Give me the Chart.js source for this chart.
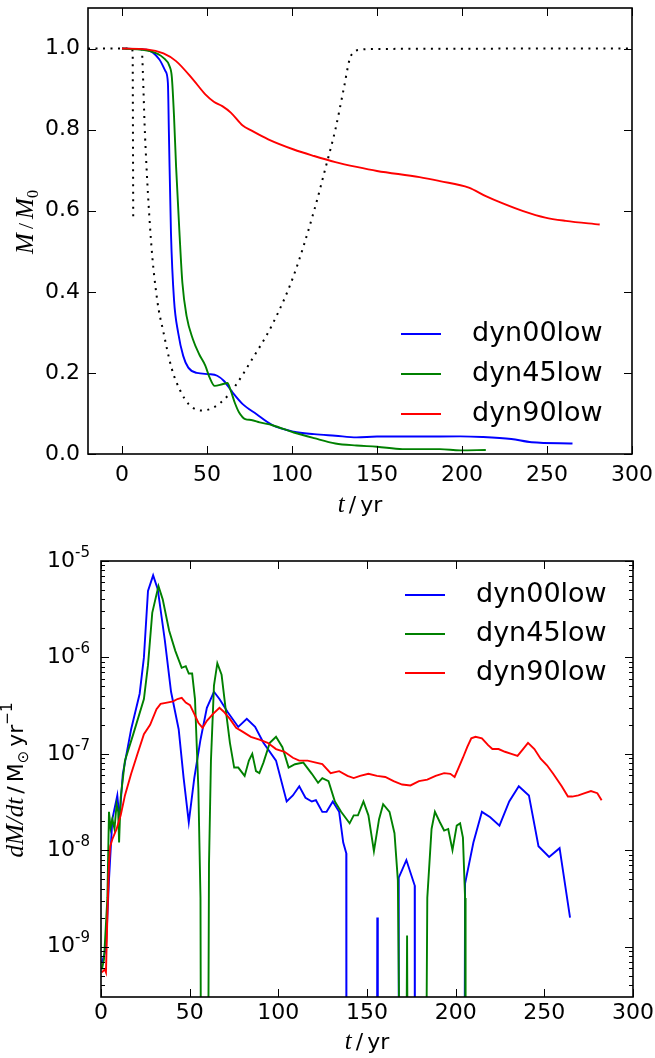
<!DOCTYPE html>
<html>
<head>
<meta charset="utf-8">
<script src="https://cdn.jsdelivr.net/npm/chart.js@4.4.1/dist/chart.umd.min.js"></script>
<style>
  html, body { margin: 0; padding: 0; background: #fff; }
  #wrap { position: relative; width: 655px; height: 1058px; }
  canvas { position: absolute; left: 0; }
  #massChart { top: 0; }
  #rateChart { top: 520px; }
</style>
</head>
<body>
<div id="wrap">
  <canvas id="massChart" width="655" height="520"></canvas>
  <canvas id="rateChart" width="655" height="538"></canvas>
</div>
<script>
// ---- top panel: remaining mass M/M0 ----
const massTime00 = [0, 14.5, 22, 25.6, 27, 27.6, 28.8, 30.6, 33, 36, 39, 44, 51.5, 56, 60, 65, 71, 79, 88.5, 101, 113, 125.5, 138, 150, 175, 199, 212, 229, 241, 265];
const mass00 = [1.0, 0.997, 0.973, 0.944, 0.915, 0.79, 0.546, 0.38, 0.30, 0.242, 0.213, 0.20, 0.197, 0.193, 0.18, 0.152, 0.123, 0.0985, 0.071, 0.055, 0.049, 0.045, 0.041, 0.043, 0.043, 0.0435, 0.042, 0.037, 0.029, 0.026];

const massTime45 = [0, 17, 24.4, 28, 29.3, 30.6, 31.8, 33.8, 35.5, 38, 41.7, 45.4, 49, 51.5, 54.5, 59, 62, 64, 66.3, 68.8, 72.5, 76, 81, 88.5, 101, 113, 125.5, 138, 150, 165, 187, 199, 214];
const mass45 = [1.0, 0.993, 0.977, 0.956, 0.93, 0.833, 0.71, 0.546, 0.423, 0.34, 0.283, 0.246, 0.218, 0.189, 0.168, 0.172, 0.175, 0.156, 0.127, 0.103, 0.086, 0.084, 0.078, 0.071, 0.053, 0.039, 0.026, 0.021, 0.018, 0.012, 0.012, 0.009, 0.010];

const massTime90 = [0, 14.5, 24.4, 31.8, 41.7, 49, 54, 59, 64, 71, 76, 86, 101, 113, 125.5, 138, 150, 175, 187, 204, 214, 224, 236, 249, 261, 281];
const mass90 = [1.0, 0.998, 0.988, 0.969, 0.924, 0.887, 0.869, 0.858, 0.842, 0.81, 0.798, 0.776, 0.751, 0.735, 0.72, 0.708, 0.698, 0.683, 0.673, 0.657, 0.636, 0.618, 0.599, 0.583, 0.575, 0.566];

// dotted reference curves
const guideTimeA = [-20, 6.0, 6.3, 6.6];
const guideA = [1.0, 1.0, 0.99, 0.58];
const guideTimeB = [11.5, 11.8, 13.5, 17, 20.7, 24.4, 29.3, 34.3, 39.2, 46.6, 54, 61.4, 66, 76, 88.5, 101, 113, 120, 125.5, 130.4, 134, 136, 140, 150, 300];
const guideB = [1.0, 0.99, 0.79, 0.53, 0.38, 0.30, 0.21, 0.156, 0.123, 0.107, 0.115, 0.14, 0.164, 0.23, 0.32, 0.44, 0.60, 0.71, 0.80, 0.90, 0.975, 0.99, 0.997, 0.999, 1.0];

const massXTicks = [0, 50, 100, 150, 200, 250, 300];
const massYTicks = [0.0, 0.2, 0.4, 0.6, 0.8, 1.0];

// ---- bottom panel: mass loss rate dM/dt (1e-12 = dropped below the axis) ----
const rateTime00 = [0.5, 2.8, 4.5, 6.4, 9.2, 10.4, 12.3, 17, 21.8, 24.2, 26.5, 29.4, 32, 36, 39.5, 43.8, 46.6, 49.5, 52.6, 56.1, 59.7, 63.7, 66.8, 71.5, 77.4, 82.2, 86.9, 91.6, 98.7, 104.7, 108.2, 111.8, 115.3, 118.9, 121.2, 124.8, 127.2, 130.7, 134.3, 136.6, 138.3, 138.4, 155.5, 155.8, 156.1, 167.6, 167.9, 172.2, 176.9, 177.0, 204.8, 205.3, 210, 214.8, 219.5, 224.7, 230.2, 235.6, 241.3, 246.7, 252.7, 258.6, 264.5];
const rate00 = [6.8e-10, 9.5e-10, 4.9e-9, 2.1e-8, 3.7e-8, 2.1e-8, 6.2e-8, 1.8e-7, 4.2e-7, 1.0e-6, 4.9e-6, 7.1e-6, 5.1e-6, 1.5e-6, 4.4e-7, 1.8e-7, 5.6e-8, 1.95e-8, 5.6e-8, 1.4e-7, 3.0e-7, 4.4e-7, 3.7e-7, 2.7e-7, 1.9e-7, 2.3e-7, 1.9e-7, 1.3e-7, 8.5e-8, 3.2e-8, 3.7e-8, 4.6e-8, 3.5e-8, 3.2e-8, 3.3e-8, 2.5e-8, 2.5e-8, 3.2e-8, 2.5e-8, 1.2e-8, 9.3e-9, 1e-12, 1e-12, 2.0e-9, 1e-12, 1e-12, 5.2e-9, 7.9e-9, 4.3e-9, 1e-12, 1e-12, 4.5e-9, 1.2e-8, 2.5e-8, 2.2e-8, 1.8e-8, 3.2e-8, 4.6e-8, 3.7e-8, 1.1e-8, 8.5e-9, 1.05e-8, 2.0e-9];

const rateTime45 = [0.5, 1.7, 3.6, 4.5, 5.4, 6.4, 7.6, 8.8, 9.7, 10.2, 11.1, 13.5, 18.2, 24.2, 26.5, 28.9, 32.4, 34.8, 38.4, 41.9, 45.5, 47.8, 49.5, 51.4, 53, 54.9, 56.1, 56.6, 60.1, 60.9, 62, 63.7, 65.6, 68, 70.3, 72.7, 75.1, 77.4, 81, 83.4, 85.3, 87.4, 89.3, 91.6, 95.2, 98.7, 102.3, 105.8, 109.4, 114.1, 118.9, 122.4, 124.8, 128.3, 131.9, 135.4, 140.2, 142.5, 144.9, 148, 150.8, 153.9, 156.8, 159.1, 162.7, 165.5, 167.4, 169.3, 171.7, 172.6, 173.3, 182.8, 184, 186.4, 188.3, 191.1, 193.5, 195.8, 198.2, 200.6, 202.5, 204.1, 205.3, 205.6];
const rate45 = [5.8e-10, 7.4e-10, 3.2e-9, 2.5e-8, 1.7e-8, 2.1e-8, 1.66e-8, 3.0e-8, 2.5e-8, 1.2e-8, 3.5e-8, 8.5e-8, 1.6e-7, 3.7e-7, 8.3e-7, 2.9e-6, 5.5e-6, 4.0e-6, 1.9e-6, 1.17e-6, 7.8e-7, 8.1e-7, 6.8e-7, 6.8e-7, 3.7e-7, 4.4e-8, 3.2e-9, 1e-12, 1e-12, 7.2e-9, 8.5e-8, 5.1e-7, 8.7e-7, 6.6e-7, 2.9e-7, 1.3e-7, 7.2e-8, 7.2e-8, 5.9e-8, 8.5e-8, 1.0e-7, 6.6e-8, 6.3e-8, 8.1e-8, 1.3e-7, 1.5e-7, 1.17e-7, 7.2e-8, 7.8e-8, 8.1e-8, 6.2e-8, 5.0e-8, 5.6e-8, 5.2e-8, 3.2e-8, 2.5e-8, 1.9e-8, 2.3e-8, 2.3e-8, 3.2e-8, 2.3e-8, 9.8e-9, 2.1e-8, 3.0e-8, 2.5e-8, 1.5e-8, 4.9e-9, 1e-12, 1e-12, 1.3e-9, 1e-12, 1e-12, 3.2e-9, 1.66e-8, 2.5e-8, 1.95e-8, 1.6e-8, 1.66e-8, 1.0e-8, 1.8e-8, 1.9e-8, 1.35e-8, 3.2e-9, 1e-12];

const rateTime90 = [0.5, 2.1, 2.8, 3.6, 4.5, 5.2, 6.4, 8.8, 11.1, 13.5, 17, 20.6, 24.2, 27.7, 31.3, 33.6, 37.2, 40.7, 43.1, 45.5, 47.8, 50.2, 52.6, 54.9, 57.3, 59.7, 63.2, 66.8, 69.1, 72.7, 76.2, 79.8, 84.5, 89.3, 94, 98.7, 103.5, 108.2, 111.8, 116.5, 121.2, 124.8, 129.5, 134.3, 139, 142.5, 146.1, 150.8, 155.6, 160.3, 165, 169.8, 174.5, 179.3, 184, 188.7, 193.5, 197, 199.4, 201.7, 204.1, 206.5, 208.8, 211.2, 214.8, 218.3, 220.7, 224.2, 227.8, 231.4, 234.9, 238, 240.8, 244.4, 247.9, 251.5, 255, 259.8, 263.3, 265.7, 269.2, 272.8, 276.3, 279.9, 282.3];
const rate90 = [5.4e-10, 5.8e-10, 5.4e-10, 2.1e-9, 7.2e-9, 1.1e-8, 1.3e-8, 1.66e-8, 2.3e-8, 3.7e-8, 6.2e-8, 1.0e-7, 1.6e-7, 2.0e-7, 2.9e-7, 3.3e-7, 3.4e-7, 3.5e-7, 3.7e-7, 3.8e-7, 3.4e-7, 3.2e-7, 2.6e-7, 2.1e-7, 1.86e-7, 2.2e-7, 2.6e-7, 3.0e-7, 2.75e-7, 2.3e-7, 1.86e-7, 1.7e-7, 1.5e-7, 1.4e-7, 1.3e-7, 1.12e-7, 1.05e-7, 9.1e-8, 8.5e-8, 8.5e-8, 8.1e-8, 7.8e-8, 6.3e-8, 6.6e-8, 5.9e-8, 5.6e-8, 5.9e-8, 6.2e-8, 5.9e-8, 5.75e-8, 5.2e-8, 4.8e-8, 4.7e-8, 5.2e-8, 5.4e-8, 5.9e-8, 6.3e-8, 6.2e-8, 5.75e-8, 7.2e-8, 9.1e-8, 1.17e-7, 1.45e-7, 1.5e-7, 1.45e-7, 1.23e-7, 1.12e-7, 1.12e-7, 1.05e-7, 1.0e-7, 9.5e-8, 1.12e-7, 1.3e-7, 1.12e-7, 8.9e-8, 7.6e-8, 6.2e-8, 4.6e-8, 3.6e-8, 3.6e-8, 3.7e-8, 3.9e-8, 4.1e-8, 3.9e-8, 3.3e-8];

const rateXTicks = [0, 50, 100, 150, 200, 250, 300];
const rateYTicks = [1e-9, 1e-8, 1e-7, 1e-6, 1e-5];
const rateYTickExps = ['-9', '-8', '-7', '-6', '-5'];
const rateDecades = [1e-10, 1e-9, 1e-8, 1e-7, 1e-6];
const rateMinorSteps = [2, 3, 4, 5, 6, 7, 8, 9];

const seriesNames = ['dyn00low', 'dyn45low', 'dyn90low'];
const seriesColors = ['#0000ff', '#008000', '#ff0000'];

Chart.defaults.font.family = '"DejaVu Sans", sans-serif';
Chart.defaults.font.size = 22;
Chart.defaults.color = '#000';
Chart.defaults.animation = false;

const pts = (xs, ys) => xs.map((x, i) => ({ x: x, y: ys[i] }));

// fixed axis sizes so the plot boxes sit where the original put them
function fixWidth(w) {
  return s => { s.width = w; s.paddingTop = 0; s.paddingBottom = 0; };
}
function fixHeight(h) {
  return s => { s.height = h; s.paddingLeft = 0; s.paddingRight = 0; };
}

// box around the plot with inward ticks on all four sides
const frameTicks = {
  id: 'frameTicks',
  afterDatasetsDraw(chart, args, opts) {
    const { ctx, chartArea: a, scales } = chart;
    ctx.save();
    ctx.strokeStyle = '#000';
    ctx.lineWidth = 1;
    ctx.beginPath();
    scales.x.ticks.forEach(t => {
      const px = Math.round(scales.x.getPixelForValue(t.value)) + 0.5;
      ctx.moveTo(px, a.bottom); ctx.lineTo(px, a.bottom - 8);
      ctx.moveTo(px, a.top); ctx.lineTo(px, a.top + 8);
    });
    scales.y.ticks.forEach(t => {
      const py = Math.round(scales.y.getPixelForValue(t.value)) + 0.5;
      ctx.moveTo(a.left, py); ctx.lineTo(a.left + 8, py);
      ctx.moveTo(a.right, py); ctx.lineTo(a.right - 8, py);
    });
    (opts.minor || []).forEach(v => {
      const py = Math.round(scales.y.getPixelForValue(v)) + 0.5;
      if (py < a.top || py > a.bottom) return;
      ctx.moveTo(a.left, py); ctx.lineTo(a.left + 4, py);
      ctx.moveTo(a.right, py); ctx.lineTo(a.right - 4, py);
    });
    ctx.stroke();
    ctx.lineWidth = 1.6;
    ctx.strokeRect(a.left, a.top, a.right - a.left, a.bottom - a.top);
    ctx.restore();
  }
};

// legend drawn inside the axes, matplotlib style
const insetLegend = {
  id: 'insetLegend',
  afterDraw(chart, args, o) {
    const ctx = chart.ctx;
    const items = chart.data.datasets.filter(d => d.label);
    ctx.save();
    ctx.font = o.font;
    ctx.textBaseline = 'middle';
    ctx.fillStyle = '#000';
    items.forEach((d, i) => {
      const y = o.top + i * o.gap;
      ctx.strokeStyle = d.borderColor;
      ctx.lineWidth = d.borderWidth;
      ctx.beginPath();
      ctx.moveTo(o.lineFrom, y); ctx.lineTo(o.lineTo, y);
      ctx.stroke();
      ctx.fillText(d.label, o.textX, y);
    });
    ctx.restore();
  }
};

// axis titles with mixed math / roman text
function drawRuns(ctx, runs, cx, cy, rotate) {
  ctx.save();
  ctx.translate(cx, cy);
  if (rotate) ctx.rotate(-Math.PI / 2);
  let total = 0;
  runs.forEach(r => {
    ctx.font = r.font;
    r.w = ctx.measureText(r.text).width + (r.gap || 0);
    total += r.w;
  });
  let x = -total / 2;
  ctx.fillStyle = '#000';
  ctx.textBaseline = 'alphabetic';
  runs.forEach(r => {
    ctx.font = r.font;
    ctx.fillText(r.text, x, r.dy || 0);
    x += r.w;
  });
  ctx.restore();
}
const axisTitles = {
  id: 'axisTitles',
  afterDraw(chart, args, o) {
    (o.items || []).forEach(it => drawRuns(chart.ctx, it.runs, it.x, it.y, it.rotate));
  }
};

// log tick labels as 10 with raised exponent
const powerLabels = {
  id: 'powerLabels',
  afterDraw(chart, args, o) {
    if (!o.values) return;
    const s = chart.scales.y, ctx = chart.ctx;
    const right = chart.chartArea.left - 11;
    ctx.save();
    ctx.fillStyle = '#000';
    ctx.textBaseline = 'middle';
    o.values.forEach((v, i) => {
      const y = s.getPixelForValue(v);
      ctx.font = '15px "DejaVu Sans"';
      const sw = ctx.measureText(o.exps[i]).width;
      ctx.fillText(o.exps[i], right - sw, y - 8);
      ctx.font = '22px "DejaVu Sans"';
      const bw = ctx.measureText('10').width;
      ctx.fillText('10', right - sw - bw, y);
    });
    ctx.restore();
  }
};

const serif = 'italic 25px "Liberation Serif", serif';
const serifUp = '22px "Liberation Serif", serif';
const sans = '22px "DejaVu Sans", sans-serif';
const small = '15px "DejaVu Sans", sans-serif';

function lineSet(label, xs, ys, i, order, mode) {
  return {
    label: label,
    data: pts(xs, ys),
    borderColor: seriesColors[i],
    borderWidth: 1.9,
    pointRadius: 0,
    fill: false,
    order: order,
    cubicInterpolationMode: mode
  };
}

// ---------- top chart ----------
new Chart(document.getElementById('massChart'), {
  type: 'line',
  data: {
    datasets: [
      lineSet(seriesNames[0], massTime00, mass00, 0, 2, 'monotone'),
      lineSet(seriesNames[1], massTime45, mass45, 1, 1, 'monotone'),
      lineSet(seriesNames[2], massTime90, mass90, 2, 0, 'monotone'),
      { data: pts(guideTimeA, guideA), borderColor: '#000', borderWidth: 2, borderDash: [2, 5.5],
        pointRadius: 0, order: 3 },
      { data: pts(guideTimeB, guideB), borderColor: '#000', borderWidth: 2, borderDash: [2, 5.5],
        pointRadius: 0, order: 3, cubicInterpolationMode: 'monotone' }
    ]
  },
  options: {
    responsive: false,
    devicePixelRatio: 1,
    layout: { padding: { left: 0, right: 23, top: 8, bottom: 0 } },
    scales: {
      x: {
        type: 'linear', min: -20, max: 300,
        grid: { display: false, drawTicks: false },
        border: { display: false },
        afterBuildTicks: s => { s.ticks = massXTicks.map(v => ({ value: v })); },
        afterFit: fixHeight(66),
        ticks: { autoSkip: false, maxRotation: 0, padding: 8, callback: v => String(v) }
      },
      y: {
        type: 'linear', min: 0, max: 1.1,
        grid: { display: false, drawTicks: false },
        border: { display: false },
        afterBuildTicks: s => { s.ticks = massYTicks.map(v => ({ value: v })); },
        afterFit: fixWidth(88),
        ticks: { padding: 8, callback: v => v.toFixed(1) }
      }
    },
    plugins: {
      legend: { display: false },
      tooltip: { enabled: false },
      insetLegend: { font: '27px "DejaVu Sans"', top: 334, gap: 40, lineFrom: 401, lineTo: 441, textX: 472 },
      axisTitles: { items: [
        { x: 360, y: 512, runs: [
          { text: 't', font: serif, gap: 4 }, { text: '/', font: sans, gap: 4 }, { text: 'yr', font: sans } ] },
        { x: 33, y: 222, rotate: true, runs: [
          { text: 'M', font: serif, gap: 4 }, { text: '/', font: serifUp, gap: 4 },
          { text: 'M', font: serif }, { text: '0', font: '16px "Liberation Serif", serif', dy: 5 } ] }
      ] }
    }
  },
  plugins: [frameTicks, insetLegend, axisTitles]
});

// ---------- bottom chart ----------
const rateMinor = [];
rateDecades.forEach(d => rateMinorSteps.forEach(m => rateMinor.push(d * m)));

new Chart(document.getElementById('rateChart'), {
  type: 'line',
  data: {
    datasets: [
      lineSet(seriesNames[0], rateTime00, rate00, 0, 2, 'default'),
      lineSet(seriesNames[1], rateTime45, rate45, 1, 1, 'default'),
      lineSet(seriesNames[2], rateTime90, rate90, 2, 0, 'default')
    ]
  },
  options: {
    responsive: false,
    devicePixelRatio: 1,
    layout: { padding: { left: 0, right: 22, top: 41, bottom: 0 } },
    scales: {
      x: {
        type: 'linear', min: 0, max: 300,
        grid: { display: false, drawTicks: false },
        border: { display: false },
        afterBuildTicks: s => { s.ticks = rateXTicks.map(v => ({ value: v })); },
        afterFit: fixHeight(61),
        ticks: { autoSkip: false, maxRotation: 0, padding: 3, callback: v => String(v) }
      },
      y: {
        type: 'logarithmic', min: 3e-10, max: 1e-5,
        grid: { display: false, drawTicks: false },
        border: { display: false },
        afterBuildTicks: s => { s.ticks = rateYTicks.map(v => ({ value: v })); },
        afterFit: fixWidth(101),
        ticks: { display: false }
      }
    },
    plugins: {
      legend: { display: false },
      tooltip: { enabled: false },
      frameTicks: { minor: rateMinor },
      powerLabels: { values: rateYTicks, exps: rateYTickExps },
      insetLegend: { font: '27px "DejaVu Sans"', top: 75, gap: 39, lineFrom: 405, lineTo: 445, textX: 476 },
      axisTitles: { items: [
        { x: 367, y: 529, runs: [
          { text: 't', font: serif, gap: 4 }, { text: '/', font: sans, gap: 4 }, { text: 'yr', font: sans } ] },
        { x: 23, y: 260, rotate: true, runs: [
          { text: 'dM/dt', font: serif, gap: 4 }, { text: '/', font: sans, gap: 4 },
          { text: 'M', font: sans }, { text: '\u2299', font: small, dy: 5, gap: 4 },
          { text: 'yr', font: sans }, { text: '\u22121', font: small, dy: -11 } ] }
      ] }
    }
  },
  plugins: [frameTicks, powerLabels, insetLegend, axisTitles]
});
</script>
</body>
</html>
